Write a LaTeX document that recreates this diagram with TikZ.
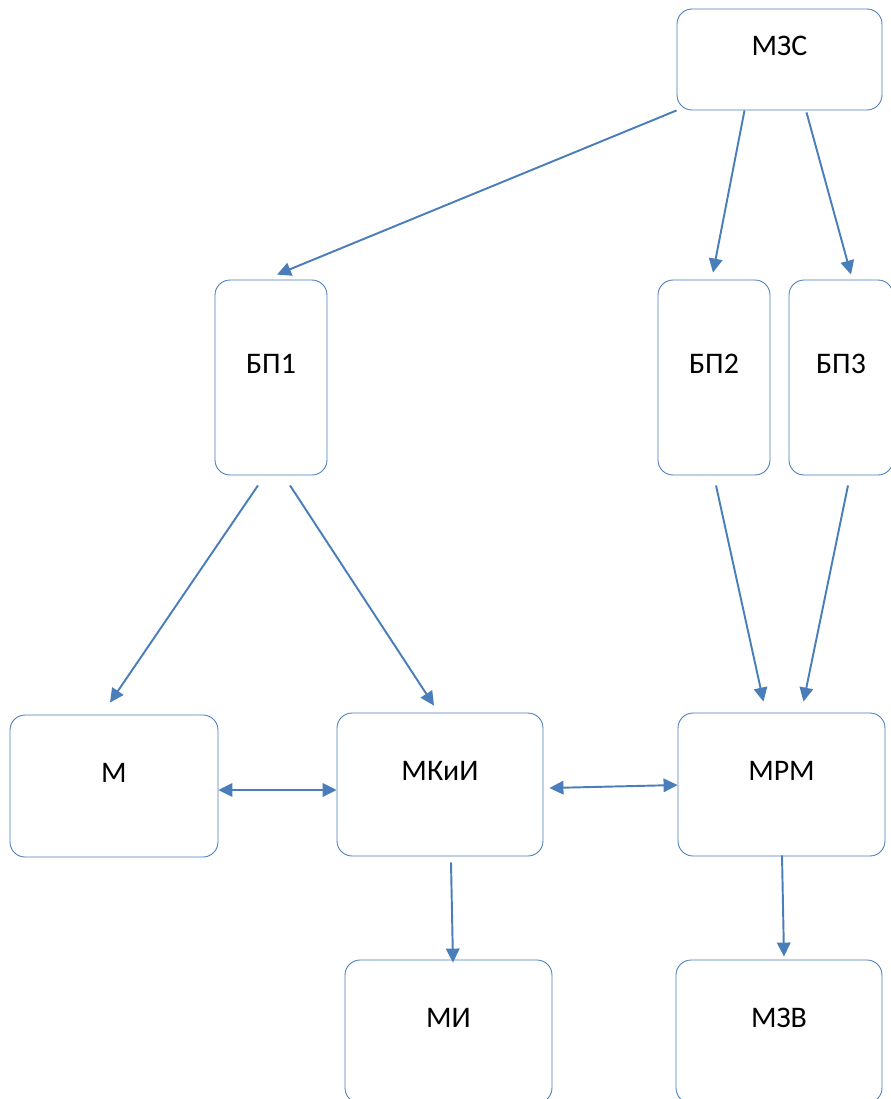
\documentclass[tikz,border=0pt]{standalone}
\usepackage{fontspec}
\setmainfont{Carlito}
\usepackage{tikz}
\usetikzlibrary{calc}
\usetikzlibrary{positioning}
\usetikzlibrary{arrows.meta}
\definecolor{boxblue}{HTML}{4A7EBB}
\tikzset{
  myarrow/.style={
    draw=boxblue,
    line width=1.1pt,
    -{Triangle[length=0.28cm,width=0.27cm]},
  },
  mydarrow/.style={
    draw=boxblue,
    line width=1.1pt,
    {Triangle[length=0.28cm,width=0.27cm]}-{Triangle[length=0.28cm,width=0.27cm]},
  },
  mybox/.style={
    draw=boxblue,
    shape=rectangle,
    line width=0.5pt,
    rounded corners=0.3cm,
    align=center,
    inner sep=0pt,
    text height=0.45cm,
    text depth=0.6cm,
    font=\fontsize{17}{20}\selectfont
  },
}

\begin{document}
\begin{tikzpicture}[x=0.02cm, y=-0.02cm]
    \useasboundingbox (0,0) rectangle (891,1099);

    \node [mybox, minimum width=4.1cm, minimum height=2.02cm] (MZS) at (779.5, 59.5) {МЗС};

    \node [mybox, minimum width=2.24cm, minimum height=3.9cm] (BP1) at (271, 377.5) {БП1};
    \node [mybox, minimum width=2.24cm, minimum height=3.9cm] (BP2) at (714, 377.5) {БП2};
    \node [mybox, minimum width=2.08cm, minimum height=3.9cm] (BP3) at (841, 377.5) {БП3};

    \node [mybox, minimum width=4.16cm, minimum height=2.84cm] (M) at (114, 786) {М};
    \node [mybox, minimum width=4.12cm, minimum height=2.86cm] (MKI) at (440, 784.5) {МКиИ};
    \node [mybox, minimum width=4.14cm, minimum height=2.86cm] (MRM) at (781.5, 784.5) {МРМ};

    \node [mybox, minimum width=4.14cm, minimum height=2.86cm] (MI) at (448.5, 1031.5) {МИ};
    \node [mybox, minimum width=4.12cm, minimum height=2.86cm] (MZV) at (779, 1031.5) {МЗВ};

    \draw [myarrow] (MZS.south west) -- ($(BP1.north)+(6,-5)$);
    \draw [myarrow] ($(MZS.south)+(-35,0)$) -- ($(BP2.north)+(-1,-7)$);
    \draw [myarrow] ($(MZS.south)+(27,2)$) -- ($(BP3.north)+(10,-5)$);

    \draw [myarrow] ($(BP1.south)+(-13,10)$) -- ($(M.north)+(-4,-12)$);
    \draw [myarrow] ($(BP1.south)+(19,10)$) -- ($(MKI.north)+(-6,-7)$);
    \draw [myarrow] ($(BP2.south)+(2,10)$) -- ($(MRM.north)+(-18,-11)$);
    \draw [myarrow] ($(BP3.south)+(7,10)$) -- ($(MRM.north)+(22,-11)$);

    \draw [mydarrow] ($(M.east)+(0,4)$) -- ($(MKI.west)+(0,5.5)$);
    \draw [mydarrow] ($(MKI.east)+(6,3.5)$) -- ($(MRM.west)+(0,0.5)$);

    \draw [myarrow] ($(MKI.south)+(11,6)$) -- ($(MI.north)+(4.5,3)$);
    \draw [myarrow] ($(MRM.south)+(0.5,-1)$) -- ($(MZV.north)+(5,-3)$);

\end{tikzpicture}
\end{document}
